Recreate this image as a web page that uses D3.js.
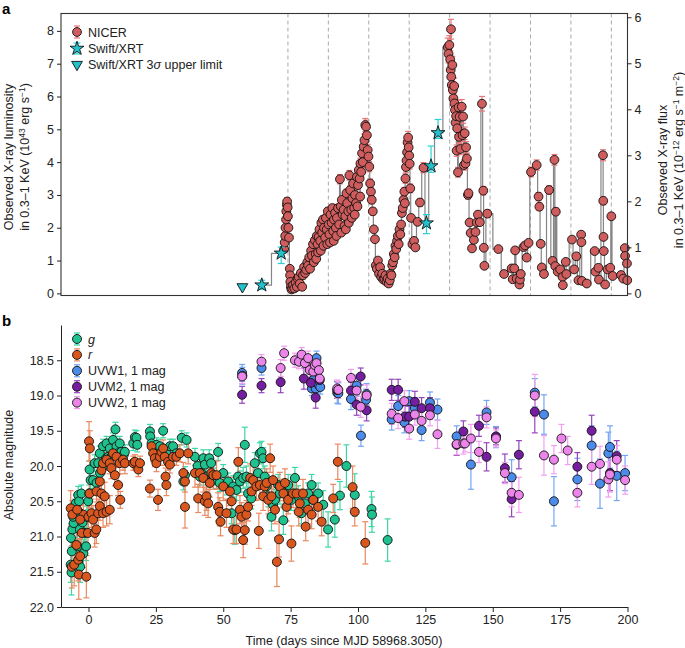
<!DOCTYPE html>
<meta charset="utf-8">

<style type="text/css">
body { margin: 0; background: #fff; }
svg { font-family: "Liberation Sans", Arial, sans-serif; }
.tick text { font-size: 12.5px; fill: #222; }
.tick line, .domain { stroke: #222; }
.step { fill: none; stroke: #858585; stroke-width: 1.2; }
.vline { stroke: #a9a9a9; stroke-dasharray: 4,3; stroke-width: 1; }
.title { font-size: 12.5px; fill: #222; }
</style>

<body>
<script src="https://cdn.jsdelivr.net/npm/d3@7"></script>
<script>

// ---- data ----
// panel a: NICER [day, L (1e43 erg/s)]
var nicer = [
  [72.6,1.35],[72.8,1.55],[73.0,1.75],[73.1,2.0],[73.3,2.25],[73.4,2.5],[73.6,2.7],[73.7,2.8],[73.9,2.62],[74.0,2.35],[74.2,2.0],[74.4,1.7],
  [74.7,0.75],[74.8,0.55],[74.9,0.35],[75.1,0.2],[75.3,0.12],[75.6,0.15],[75.9,0.25],
  [76.4,0.15],[76.9,0.33],[77.3,0.2],[77.6,0.45],[78.0,0.5],[78.4,0.3],[78.8,0.62],[79.3,0.2],[79.6,0.55],[80.0,0.8],[80.4,0.62],[80.8,0.72],
  [81.2,0.95],[81.5,0.85],[81.9,1.1],[82.2,0.75],[82.6,1.3],[82.9,1.15],[83.3,1.5],[83.6,0.95],[84.0,1.62],[84.3,1.2],[84.5,1.05],[84.7,1.75],[85.0,1.5],
  [85.2,1.25],[85.4,1.72],[85.7,1.95],[86.0,1.6],[86.2,1.3],[86.4,2.15],[86.7,1.85],[87.0,2.25],[87.2,1.45],[87.4,2.0],[87.8,1.7],[88.1,2.3],[88.4,1.95],
  [88.6,1.5],[88.8,2.5],[89.1,2.1],[89.4,1.8],[89.6,1.55],[89.8,2.4],[90.2,2.15],[90.5,2.6],[90.8,1.9],[91.0,1.6],[91.1,2.25],[91.5,2.45],[91.8,2.0],
  [92.0,1.75],[92.2,2.3],[92.6,2.6],[93.0,2.1],[93.3,3.48],[93.6,2.65],[93.8,1.85],[94.0,2.85],[94.3,2.4],[94.7,2.55],[95.0,2.05],[95.3,2.35],[95.5,1.95],
  [95.7,3.05],[96.0,2.75],[96.4,2.5],[96.6,2.15],[96.8,3.6],[97.1,3.15],[97.5,2.55],[97.7,2.3],[97.9,2.9],[98.2,3.35],[98.6,2.6],[98.8,2.4],[98.9,3.0],
  [99.3,2.75],[99.6,3.55],[99.8,2.65],[100.0,3.3],[100.3,3.76],[100.6,3.5],[100.8,2.95],[100.9,3.96],[101.2,3.7],[101.5,4.27],
  [101.8,4.0],[102.1,4.47],[102.4,4.67],[102.7,5.13],[103.0,5.08],[103.3,4.82],[103.6,4.37],[103.9,4.17],[104.2,3.86],[104.5,3.35],[104.8,3.1],
  [105.1,2.85],[105.5,2.5],[105.9,1.95],[106.3,1.65],[106.6,0.85],[107.0,0.75],[107.4,1.0],[107.8,0.6],[108.2,0.8],[108.6,0.5],[109.0,0.6],
  [109.4,0.42],[109.8,0.45],[110.2,0.55],[110.6,0.35],[111.0,0.45],[111.4,0.3],[111.8,0.4],[112.1,0.6],[112.4,0.55],[112.7,0.85],[113.0,0.95],
  [113.3,1.2],[113.6,1.1],[113.9,1.45],[114.2,1.35],[114.5,1.6],[114.8,1.75],[115.1,1.5],[115.4,1.95],[115.7,1.8],[116.0,2.1],[116.3,2.45],
  [116.6,2.6],[116.9,2.85],[117.2,3.1],[117.4,2.75],[117.6,3.5],[117.8,3.85],[118.0,4.05],[118.2,4.3],[118.4,4.6],[118.6,4.75],[118.8,4.45],
  [119.0,4.2],[119.2,3.95],[119.4,3.2],[119.7,2.3],[120.2,1.5],[120.8,1.6],[121.3,1.4],[122.1,2.18],[123.0,2.77],[124.3,3.83],
  [133.3,7.5],[133.6,7.3],[133.9,7.57],[134.2,7.13],[134.5,8.05],[134.4,6.81],[134.6,6.6],[134.8,6.35],[135.0,6.96],[135.2,6.2],[135.4,5.94],
  [135.7,6.32],[135.8,5.79],[136.0,5.59],[136.2,5.2],[136.4,5.4],[136.6,4.35],[136.8,5.03],[137.1,3.69],[137.3,5.67],[137.5,4.77],[137.7,5.38],
  [138.0,4.4],[138.5,5.69],[138.8,4.82],[139.0,5.39],[139.3,3.91],[139.6,4.88],[139.9,3.96],[140.1,4.45],[140.4,4.11],[140.8,3.0],[141.0,3.05],
  [141.4,2.16],[141.8,1.84],[142.3,1.37],[143.0,1.63],[143.6,1.87],[144.1,2.16],[144.5,2.4],[145.2,2.17],[146.0,5.78],[146.5,3.13],[146.7,1.39],
  [146.9,0.84],[148.0,2.43],
  [152.1,1.35],[154.2,0.59],[157.0,0.76],[157.4,0.43],[158.0,0.76],[158.3,1.31],[158.9,0.45],[159.9,0.27],[160.1,0.42],[160.4,0.59],[161.4,1.41],
  [162.0,1.46],[162.6,1.09],[163.3,1.54],[164.2,3.7],[166.3,3.91],[167.0,2.95],[167.3,2.64],[167.8,1.51],[168.2,0.79],[169.0,0.59],[170.9,3.15],
  [172.2,0.99],[172.9,4.07],[173.2,0.83],[173.4,2.49],[174.1,0.66],[175.0,0.73],[175.9,0.5],[176.0,0.25],[177.1,0.96],[177.3,0.59],[179.4,1.64],
  [180.2,0.73],[181.0,1.13],[181.8,0.4],[182.8,1.79],[182.9,1.56],[183.1,0.38],[184.9,0.3],[187.8,1.29],[188.1,0.66],[189.2,0.78],[189.4,0.42],
  [190.9,4.21],[191.0,2.82],[191.1,1.72],[191.2,1.29],[191.7,0.27],[192.6,0.73],[193.6,0.78],[194.0,2.35],[194.5,0.53],[197.6,0.56],[198.4,0.45],
  [199.0,1.38],[199.1,1.14],[199.8,0.91],[199.9,0.4]
];
// Swift/XRT detections [day, L, low, high]
var swift = [[64.3,0.25,0.12,0.4],[71.5,1.22,0.91,1.41],[125.4,2.14,1.82,2.4],[127.1,3.88,3.69,4.49],[129.7,4.89,4.72,5.3]];
// Swift/XRT 3-sigma upper limit [day, L]
var swiftLimit = [[57.1,0.2]];
// dashed guide lines (days)
var guideDays = [74, 89, 104, 119, 134, 149, 164, 179, 194];

// panel b: [day, absolute mag, error]
var gBand = [
  [-6.3,21.51,0.32],[-6.6,21.40,0.25],[-6.2,21.21,0.22],[-6.5,21.02,0.2],[-6.0,20.90,0.18],[-5.5,20.81,0.15],[-5.7,20.72,0.15],[-5.1,20.62,0.15],
  [-4.7,20.53,0.12],[-3.8,20.41,0.12],[-3.5,20.50,0.12],[-2.6,20.39,0.12],[-3.1,20.67,0.15],[-3.2,20.90,0.18],[-4.1,21.14,0.2],[-3.8,21.35,0.22],
  [-3.1,21.43,0.22],[-1.9,21.24,0.2],[-0.9,21.14,0.2],[-1.4,20.95,0.18],[-2.2,20.80,0.15],[-0.1,20.50,0.12],[0.3,20.39,0.12],[0.8,20.20,0.12],
  [0.4,20.05,0.12],[-0.6,20.72,0.15],[1.7,20.20,0.12],[2.3,19.96,0.12],[3.0,20.24,0.12],[3.6,19.96,0.1],[4.2,19.82,0.1],[4.3,20.10,0.12],
  [5.4,19.72,0.1],[5.5,20.00,0.1],[6.4,19.90,0.1],[6.7,19.68,0.1],[7.3,19.87,0.1],[7.9,19.75,0.1],[8.5,19.87,0.1],[9.1,19.63,0.1],
  [10.0,19.48,0.1],[10.4,19.72,0.1],[11.0,19.82,0.1],[11.6,19.68,0.1],[12.2,19.80,0.1],[13.1,19.84,0.1],[13.5,19.80,0.1],
  [16.6,19.68,0.1],[17.2,19.59,0.1],[17.8,19.60,0.1],[18.1,19.70,0.1],[22.8,19.51,0.1],[22.9,19.58,0.1],[23.4,19.68,0.1],[24.5,19.75,0.1],
  [25.2,19.70,0.1],[26.5,19.72,0.1],[27.7,19.50,0.1],[28.9,19.80,0.1],[30.2,19.72,0.1],[31.4,19.72,0.1],[32.6,19.82,0.1],[34.6,19.60,0.1],
  [35.2,20.22,0.12],[35.8,20.13,0.12],[36.4,19.63,0.1],
  [39.5,19.87,0.12],[40.5,20.00,0.12],[41.3,20.15,0.12],[41.9,20.10,0.12],[42.6,19.89,0.12],[43.2,19.98,0.12],[43.8,20.15,0.12],[44.8,19.89,0.12],
  [45.5,19.96,0.12],[46.3,20.15,0.12],[47.5,20.20,0.12],[48.1,19.80,0.12],[48.7,20.24,0.12],[50.0,20.10,0.12],[51.2,20.29,0.12],[51.8,20.22,0.12],
  [53.1,20.67,0.15],[53.7,20.29,0.15],[54.3,20.91,0.2],[54.9,20.34,0.15],[55.5,20.15,0.15],[56.2,20.22,0.15],[57.4,20.17,0.15],[58.0,19.70,0.25],
  [58.6,20.15,0.15],[59.2,20.39,0.15],[60.4,20.46,0.15],[61.7,19.96,0.15],[62.9,20.10,0.15],[63.6,19.82,0.15],[64.2,19.80,0.15],[64.8,19.89,0.15],
  [65.4,20.15,0.15],[66.1,20.29,0.15],[66.7,20.43,0.15],[67.9,20.72,0.2],[68.5,20.55,0.15],[69.2,20.48,0.15],[70.4,20.27,0.15],[71.0,20.39,0.15],
  [72.3,20.77,0.2],[72.9,20.39,0.15],[74.1,20.27,0.15],[75.3,20.48,0.15],[76.6,20.17,0.15],[77.8,20.43,0.15],[79.0,20.67,0.15],[80.3,20.53,0.15],
  [81.5,20.39,0.15],[82.8,20.27,0.15],[83.4,20.48,0.15],[85.2,20.39,0.15],[87.1,20.55,0.2],[88.9,20.90,0.25],[91.4,20.76,0.25],[93.3,20.42,0.2],
  [95.7,20.00,0.3],[98.8,20.41,0.3],[105.0,20.61,0.25],[105.2,20.69,0.25],[111.0,21.05,0.3]
];
var rBand = [
  [-6.6,20.60,0.25],[-6.0,20.69,0.2],[-6.2,21.43,0.3],[-5.3,21.40,0.3],[-4.5,21.12,0.25],[-3.8,21.33,0.3],[-3.6,21.54,0.35],[-3.1,21.28,0.25],
  [-2.5,20.95,0.2],[-1.9,20.69,0.2],[-3.1,20.76,0.2],[-4.2,20.62,0.2],[-0.8,21.57,0.3],[-0.2,20.95,0.2],[0.0,20.72,0.2],[0.4,20.39,0.2],
  [0.2,19.65,0.28],[0.5,19.75,0.25],[1.1,20.67,0.2],[1.7,20.76,0.2],[2.3,20.95,0.2],[2.9,20.90,0.2],[3.0,20.36,0.15],[3.6,20.67,0.2],
  [4.2,20.57,0.2],[4.2,20.22,0.15],[4.8,20.39,0.2],[4.8,20.06,0.15],[5.4,20.67,0.2],[5.4,19.96,0.15],[6.0,20.43,0.2],[6.7,19.91,0.15],
  [6.7,20.65,0.2],[7.9,20.62,0.2],[7.9,19.96,0.15],[8.5,20.03,0.15],[9.1,19.82,0.15],[9.8,20.13,0.15],[10.4,19.87,0.15],[11.0,20.27,0.15],
  [11.6,19.96,0.15],[11.8,20.48,0.12],[12.8,19.91,0.15],[13.5,19.96,0.15],
  [16.6,19.96,0.1],[17.2,19.94,0.1],[18.5,20.05,0.1],[19.1,19.96,0.1],[22.8,20.32,0.12],[23.4,19.72,0.12],[24.0,19.82,0.12],[24.6,19.89,0.12],
  [25.2,19.96,0.12],[25.8,20.48,0.15],[26.5,19.87,0.12],[27.1,19.80,0.12],[27.7,19.75,0.12],[28.3,19.87,0.12],[28.6,20.15,0.12],[28.9,20.27,0.15],
  [29.5,19.94,0.12],[30.2,19.98,0.12],[31.4,19.87,0.12],[32.6,19.87,0.12],[33.9,19.82,0.12],[35.2,20.10,0.15],[35.8,20.22,0.15],[35.8,20.58,0.3],
  [37.0,19.82,0.15],
  [39.5,20.10,0.2],[40.7,20.46,0.2],[41.3,20.10,0.2],[42.6,20.17,0.2],[43.2,20.50,0.2],[43.8,20.43,0.2],[44.4,20.53,0.2],[45.0,20.24,0.2],
  [45.6,20.10,0.2],[46.3,20.13,0.2],[47.5,20.13,0.2],[48.1,20.58,0.2],[48.7,20.65,0.2],[49.0,20.79,0.2],[50.0,20.29,0.2],[51.2,20.67,0.2],
  [52.5,20.36,0.2],[53.1,20.50,0.2],[53.7,20.90,0.2],[54.9,20.90,0.2],[55.6,19.94,0.2],[56.2,20.62,0.2],[56.8,20.72,0.2],[57.4,21.05,0.25],
  [58.0,20.91,0.2],[58.6,20.69,0.2],[59.2,20.58,0.2],[60.0,20.17,0.2],[60.5,20.36,0.2],[61.1,20.20,0.2],[62.3,20.29,0.2],[63.2,20.92,0.25],
  [63.6,20.27,0.2],[64.8,20.43,0.2],[65.4,20.29,0.2],[66.1,20.24,0.2],[66.7,20.48,0.2],[67.4,19.89,0.2],[67.9,20.43,0.2],[68.5,20.20,0.2],
  [69.2,20.62,0.2],[69.9,21.36,0.35],[70.7,21.04,0.25],[71.0,20.29,0.2],[72.3,20.39,0.2],[72.9,20.24,0.2],[73.5,20.58,0.2],[74.1,20.48,0.2],
  [75.3,21.10,0.25],[75.9,20.39,0.2],[77.2,20.39,0.2],[78.0,20.65,0.2],[78.4,20.53,0.2],[79.6,20.39,0.2],[80.6,20.86,0.2],[81.5,20.62,0.2],
  [82.8,20.69,0.2],[83.4,20.48,0.2],[85.2,20.58,0.2],[86.5,20.79,0.2],[90.8,20.46,0.2],[92.5,19.94,0.25],[98.0,20.30,0.3],[98.8,20.65,0.2],
  [102.7,21.09,0.3]
];
var uvw1 = [
  [57.0,18.68,0.12],[57.1,18.72,0.12],[64.2,18.61,0.1],[84.6,18.47,0.1],[83.4,18.78,0.1],[82.9,18.90,0.1],[84.3,18.90,0.1],[85.2,18.84,0.12],
  [86.0,18.88,0.1],[92.3,18.96,0.15],[92.7,18.97,0.15],[97.4,19.05,0.15],[99.5,18.86,0.15],[101.1,19.57,0.15],[103.2,18.98,0.15],[103.0,19.06,0.15],
  [112.5,19.34,0.15],[114.9,19.15,0.15],[117.2,19.38,0.15],[119.0,19.08,0.15],[121.1,19.18,0.15],[123.6,19.49,0.15],[126.7,19.10,0.15],
  [129.5,19.20,0.15],[136.6,19.58,0.15],[141.9,19.98,0.35],[147.7,19.24,0.17],[151.2,19.59,0.15],[157.0,20.16,0.25],[165.6,18.96,0.2],
  [169.0,19.27,0.28],[172.7,20.50,0.35],[181.4,20.19,0.3],[186.7,19.71,0.28],[189.8,20.25,0.35],[192.9,19.82,0.3],[193.5,19.73,0.3],
  [196.0,20.14,0.35],[199.1,20.10,0.25]
];
var uvm2 = [
  [57.0,18.99,0.12],[64.2,18.86,0.1],[71.3,18.81,0.15],[79.9,18.76,0.15],[84.3,19.03,0.15],[82.5,18.82,0.12],[85.8,18.78,0.12],[92.3,18.92,0.12],
  [97.4,18.93,0.12],[101.0,18.73,0.12],[99.5,19.13,0.15],[103.2,19.21,0.15],[112.5,18.92,0.15],[114.9,18.92,0.15],[117.4,19.30,0.15],
  [119.0,19.30,0.15],[121.1,19.09,0.15],[123.6,19.18,0.15],[126.7,19.18,0.15],[136.6,19.70,0.15],[139.1,19.51,0.15],[144.9,19.43,0.15],
  [147.7,19.87,0.2],[151.2,19.58,0.12],[154.5,20.03,0.2],[157.0,20.47,0.25],[159.7,19.84,0.2],[165.6,19.23,0.3],[181.4,20.01,0.2],
  [186.7,19.50,0.22],[193.5,20.10,0.25],[196.0,19.86,0.22]
];
var uvw2 = [
  [57.0,18.73,0.1],[64.2,18.52,0.1],[71.3,18.61,0.12],[72.6,18.40,0.1],[76.6,18.50,0.1],[78.1,18.52,0.1],[79.1,18.42,0.1],[80.3,18.54,0.1],
  [81.5,18.47,0.1],[82.1,18.64,0.1],[83.4,18.66,0.1],[84.0,18.57,0.1],[84.6,18.54,0.1],[85.5,18.64,0.1],[85.8,18.76,0.1],[92.3,18.90,0.12],
  [92.7,18.92,0.12],[97.4,18.75,0.12],[99.5,18.93,0.12],[101.0,19.16,0.15],[103.2,19.00,0.15],[112.5,19.26,0.15],[114.9,19.32,0.15],
  [117.2,19.08,0.15],[119.0,19.47,0.15],[121.1,19.27,0.15],[123.6,19.36,0.15],[126.7,19.28,0.15],[129.5,19.55,0.2],[136.6,19.69,0.15],
  [139.1,19.68,0.15],[139.7,19.68,0.12],[141.9,19.61,0.2],[144.9,19.80,0.15],[147.7,19.31,0.15],[151.2,19.61,0.12],[154.5,20.10,0.15],
  [157.0,20.38,0.2],[159.7,20.41,0.25],[165.6,19.00,0.3],[169.0,19.85,0.28],[172.7,19.91,0.2],[175.5,19.61,0.2],[177.8,19.78,0.2],
  [181.4,20.38,0.2],[186.7,20.01,0.25],[189.8,19.97,0.25],[192.9,20.19,0.25],[193.5,20.12,0.25],[196.0,19.91,0.2],[199.1,20.20,0.2]
];

var lumTicks = [0, 1, 2, 3, 4, 5, 6, 7, 8];
var fluxTicks = [0, 1, 2, 3, 4, 5, 6];
var magTicks = [18.5, 19.0, 19.5, 20.0, 20.5, 21.0, 21.5, 22.0];
var dayTicks = [0, 25, 50, 75, 100, 125, 150, 175, 200];

// ---- scales ----
var x = d3.scaleLinear().domain([-10.2, 200]).range([61, 627.5]);
var yL = d3.scaleLinear().domain([-0.065, 8.53]).range([295.5, 13.5]);
var yF = d3.scaleLinear().domain([-0.065 * 0.713, 8.53 * 0.713]).range([295.5, 13.5]);
var yM = d3.scaleLinear().domain([18.0, 22.0]).range([325, 607]);

var svg = d3.select("body").append("svg")
    .attr("width", 685)
    .attr("height", 648);

// ================= panel a =================
var a = svg.append("g");

a.selectAll(".vline").data(guideDays).enter().append("line")
    .attr("class", "vline")
    .attr("x1", d => x(d)).attr("x2", d => x(d))
    .attr("y1", 13.5).attr("y2", 295.5);

// step line through swift detections + nicer in time order
var stepPts = swift.map(d => [d[0], d[1]]).concat(nicer).sort((p, q) => p[0] - q[0]);
a.append("path")
    .datum(stepPts)
    .attr("class", "step")
    .attr("d", d3.line().x(d => x(d[0])).y(d => yL(d[1])).curve(d3.curveStep));

function errBar(g, cx, y1, y2, color, cap) {
  g.append("line").attr("x1", cx).attr("x2", cx).attr("y1", y1).attr("y2", y2)
    .attr("stroke", color).attr("stroke-width", 1.2);
  g.append("line").attr("x1", cx - cap).attr("x2", cx + cap).attr("y1", y1).attr("y2", y1)
    .attr("stroke", color).attr("stroke-width", 1.2);
  g.append("line").attr("x1", cx - cap).attr("x2", cx + cap).attr("y1", y2).attr("y2", y2)
    .attr("stroke", color).attr("stroke-width", 1.2);
}

var nErr = a.append("g");
nicer.forEach(function(d) {
  var e = 0.035 * d[1] + 0.02;
  errBar(nErr, x(d[0]), yL(d[1] + e), yL(d[1] - e), "#e8797b", 3);
});

a.append("g").selectAll("circle").data(nicer).enter().append("circle")
    .attr("cx", d => x(d[0])).attr("cy", d => yL(d[1])).attr("r", 4.4)
    .attr("fill", "#d05d5d").attr("stroke", "#111").attr("stroke-width", 0.9);

var sErr = a.append("g");
swift.forEach(function(d) { errBar(sErr, x(d[0]), yL(d[3]), yL(d[2]), "#2ccfd8", 3.5); });

var star = d3.symbol().type(d3.symbolStar).size(60);
var tri = d3.symbol().type(d3.symbolTriangle).size(50);

a.append("g").selectAll("path").data(swift).enter().append("path")
    .attr("d", star)
    .attr("transform", d => "translate(" + x(d[0]) + "," + yL(d[1]) + ")")
    .attr("fill", "#22c1cc").attr("stroke", "#111").attr("stroke-width", 0.9);

a.append("g").selectAll("path").data(swiftLimit).enter().append("path")
    .attr("d", tri)
    .attr("transform", d => "translate(" + x(d[0]) + "," + yL(d[1]) + ") rotate(180)")
    .attr("fill", "#22c1cc").attr("stroke", "#111").attr("stroke-width", 0.9);

// frame
a.append("rect").attr("x", 61).attr("y", 13.5).attr("width", 627.5 - 61).attr("height", 282)
    .attr("fill", "none").attr("stroke", "#333").attr("stroke-width", 1.1);

a.append("g").attr("transform", "translate(61,0)")
    .call(d3.axisLeft(yL).tickValues(lumTicks).tickSize(4).tickSizeOuter(0))
    .call(g => g.select(".domain").remove());
a.append("g").attr("transform", "translate(627.5,0)")
    .call(d3.axisRight(yF).tickValues(fluxTicks).tickFormat(d3.format("d")).tickSize(4).tickSizeOuter(0))
    .call(g => g.select(".domain").remove());

// legend a
var la = a.append("g");
errBar(la, 77, 26, 38, "#e8797b", 3);
la.append("circle").attr("cx", 77).attr("cy", 32).attr("r", 4.4)
    .attr("fill", "#d05d5d").attr("stroke", "#111").attr("stroke-width", 0.9);
errBar(la, 77, 43, 54, "#2ccfd8", 3.5);
la.append("path").attr("d", star).attr("transform", "translate(77,48.5)")
    .attr("fill", "#22c1cc").attr("stroke", "#111").attr("stroke-width", 0.9);
la.append("path").attr("d", tri).attr("transform", "translate(77,64.5) rotate(180)")
    .attr("fill", "#22c1cc").attr("stroke", "#111").attr("stroke-width", 0.9);
la.append("text").attr("class", "title").attr("x", 88).attr("y", 36.5).text("NICER");
la.append("text").attr("class", "title").attr("x", 88).attr("y", 52.5).text("Swift/XRT");
var t3 = la.append("text").attr("class", "title").attr("x", 88).attr("y", 69);
t3.append("tspan").text("Swift/XRT 3");
t3.append("tspan").attr("font-style", "italic").text("σ");
t3.append("tspan").text(" upper limit");

// axis titles a
var lt = a.append("text").attr("class", "title").attr("text-anchor", "middle")
    .attr("transform", "translate(13,157) rotate(-90)");
lt.text("Observed X-ray luminosity");
var lt2 = a.append("text").attr("class", "title").attr("text-anchor", "middle")
    .attr("transform", "translate(29,157) rotate(-90)");
lt2.append("tspan").text("in 0.3–1 KeV (10");
lt2.append("tspan").attr("dy", -4).attr("font-size", 8.5).text("43");
lt2.append("tspan").attr("dy", 4).text(" erg s");
lt2.append("tspan").attr("dy", -4).attr("font-size", 8.5).text("−1");
lt2.append("tspan").attr("dy", 4).text(")");

var rt = a.append("text").attr("class", "title").attr("text-anchor", "middle")
    .attr("transform", "translate(667,160) rotate(-90)");
rt.text("Observed X-ray flux");
var rt2 = a.append("text").attr("class", "title").attr("text-anchor", "middle")
    .attr("transform", "translate(683,160) rotate(-90)");
rt2.append("tspan").text("in 0.3–1 KeV (10");
rt2.append("tspan").attr("dy", -4).attr("font-size", 8.5).text("−12");
rt2.append("tspan").attr("dy", 4).text(" erg s");
rt2.append("tspan").attr("dy", -4).attr("font-size", 8.5).text("−1");
rt2.append("tspan").attr("dy", 4).text(" m");
rt2.append("tspan").attr("dy", -4).attr("font-size", 8.5).text("−2");
rt2.append("tspan").attr("dy", 4).text(")");

svg.append("text").attr("x", 2).attr("y", 14).attr("font-weight", "bold").attr("font-size", 15).text("a");

// ================= panel b =================
var b = svg.append("g");
var bands = [
  {data: gBand, fill: "#1fc28e", err: "#3fd6a6"},
  {data: rBand, fill: "#d9561f", err: "#ea8860"},
  {data: uvw1, fill: "#4b8bea", err: "#74a6f2"},
  {data: uvm2, fill: "#761ea0", err: "#9546bd"},
  {data: uvw2, fill: "#ec85ea", err: "#f29ff0"}
];

var bErr = b.append("g");
bands.forEach(function(s) {
  s.data.forEach(function(d) {
    errBar(bErr, x(d[0]), yM(d[1] - d[2]), yM(d[1] + d[2]), s.err, 3);
  });
});
bands.forEach(function(s) {
  b.append("g").selectAll("circle").data(s.data).enter().append("circle")
      .attr("cx", d => x(d[0])).attr("cy", d => yM(d[1])).attr("r", 4.5)
      .attr("fill", s.fill).attr("stroke", "#111").attr("stroke-width", 0.9);
});

b.append("g").attr("transform", "translate(61,0)")
    .call(d3.axisLeft(yM).tickValues(magTicks).tickFormat(d3.format(".1f")).tickSize(4).tickSizeOuter(0));
b.append("g").attr("transform", "translate(0,607)")
    .call(d3.axisBottom(x).tickValues(dayTicks).tickSize(5).tickSizeOuter(0));

// legend b
var labels = ["g", "r", "UVW1, 1 mag", "UVM2, 1 mag", "UVW2, 1 mag"];
var lb = b.append("g");
bands.forEach(function(s, i) {
  var cy = 339 + i * 15.9;
  errBar(lb, 77, cy - 6, cy + 6, s.err, 3);
  lb.append("circle").attr("cx", 77).attr("cy", cy).attr("r", 4.5)
      .attr("fill", s.fill).attr("stroke", "#111").attr("stroke-width", 0.9);
  lb.append("text").attr("class", "title").attr("x", 88).attr("y", cy + 4.5)
      .attr("font-style", i < 2 ? "italic" : null).text(labels[i]);
});

b.append("text").attr("class", "title").attr("text-anchor", "middle")
    .attr("transform", "translate(13,465) rotate(-90)").text("Absolute magnitude");
b.append("text").attr("class", "title").attr("text-anchor", "middle")
    .attr("x", 344).attr("y", 645).text("Time (days since MJD 58968.3050)");

svg.append("text").attr("x", 2).attr("y", 326).attr("font-weight", "bold").attr("font-size", 15).text("b");

</script>
</body>
